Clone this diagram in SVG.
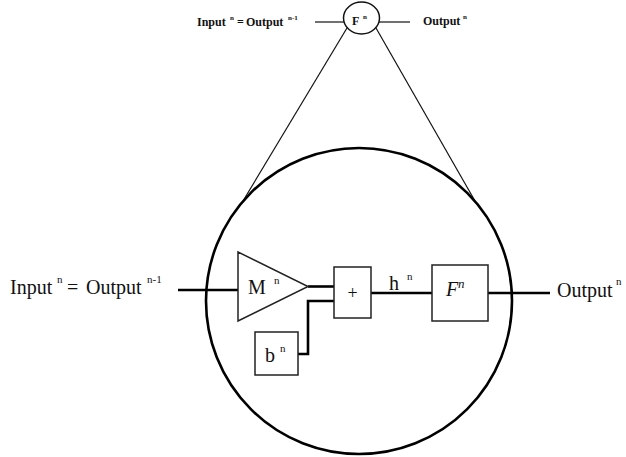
<svg xmlns="http://www.w3.org/2000/svg" width="626" height="457" viewBox="0 0 626 457">
<style>
.t{font-family:"Liberation Serif","Times New Roman",serif;fill:#111}
.m{font-size:20px}
.s{font-size:11px}
.tb{font-size:12px;font-weight:bold}
.ts{font-size:7px;font-weight:bold}
.box{fill:#fff;stroke:#222;stroke-width:1.5}
.wire{fill:none;stroke:#000;stroke-width:2.6}
.thin{fill:none;stroke:#111;stroke-width:1.2}
</style>
<rect width="626" height="457" fill="#fff"/>
<g id="connectors">
<line class="thin" x1="315" y1="22" x2="344" y2="22" stroke-width="1.6"/>
<line class="thin" x1="379" y1="22" x2="410" y2="22" stroke-width="1.6"/>
<line class="thin" x1="347" y1="28" x2="243" y2="201"/>
<line class="thin" x1="376" y1="28" x2="475" y2="201"/>
<path class="wire" d="M178,290 H238"/>
<path class="wire" d="M308,286.5 H334"/>
<path class="wire" d="M298,354 H308 V301 H334"/>
<path class="wire" d="M371,293 H432"/>
<path class="wire" d="M488,293 H550"/>
</g>
<g id="zoom-circle">
<circle cx="359" cy="301" r="153" fill="none" stroke="#000" stroke-width="2.6"/>
</g>
<g id="top-F">
<ellipse cx="361.5" cy="18" rx="18" ry="16" fill="#fff" stroke="#111" stroke-width="1.5"/>
<text class="t tb" x="352" y="25">F</text>
<text class="t ts" x="363" y="19">n</text>
</g>
<g id="top-input">
<text class="t tb" x="197" y="26">Input</text>
<text class="t ts" x="230" y="20">n</text>
<text class="t tb" x="237" y="26">=</text>
<text class="t tb" x="246" y="26">Output</text>
<text class="t ts" x="288" y="20">n-1</text>
</g>
<g id="top-output">
<text class="t tb" x="423" y="25">Output</text>
<text class="t ts" x="463" y="19">n</text>
</g>
<g id="input-label">
<text class="t m" x="10" y="294">Input</text>
<text class="t s" x="57" y="283">n</text>
<text class="t m" x="67" y="294">=</text>
<text class="t m" x="86" y="294">Output</text>
<text class="t s" x="147" y="283">n-1</text>
</g>
<g id="M">
<polygon class="box" points="238,252 238,321 308,286.5"/>
<text class="t m" x="248" y="294">M</text>
<text class="t s" x="274" y="284">n</text>
</g>
<g id="b">
<rect class="box" x="255" y="332" width="43" height="43"/>
<text class="t m" x="265" y="362">b</text>
<text class="t s" x="280" y="352">n</text>
</g>
<g id="sum">
<rect class="box" x="334" y="267" width="37" height="51"/>
<text class="t" x="352.5" y="299" font-size="18" text-anchor="middle">+</text>
</g>
<g id="h-label">
<text class="t m" x="389" y="290">h</text>
<text class="t s" x="407" y="280">n</text>
</g>
<g id="F">
<rect class="box" x="432" y="265" width="56" height="56"/>
<text class="t" x="446" y="296" font-size="20" font-style="italic">F</text>
<text class="t" x="458" y="288" font-size="13" font-style="italic">n</text>
</g>
<g id="output-label">
<text class="t m" x="557" y="297">Output</text>
<text class="t s" x="616" y="285">n</text>
</g>
</svg>
